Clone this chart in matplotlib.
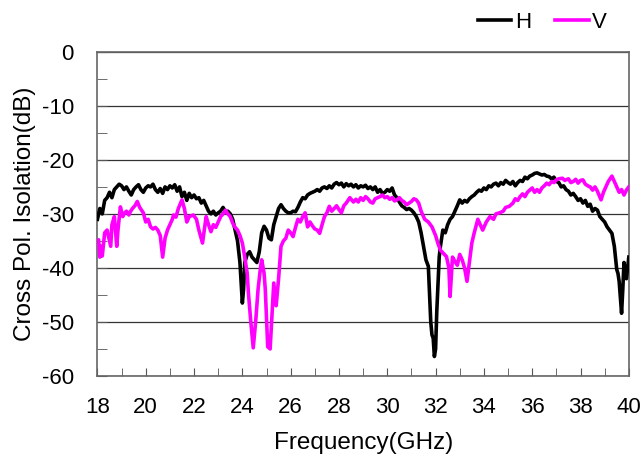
import matplotlib.pyplot as plt
import numpy as np

plt.rcParams['font.family'] = ['Liberation Sans', 'DejaVu Sans']
plt.rcParams['axes.unicode_minus'] = False

# H polarisation
freq_h = [18.0, 18.1, 18.2, 18.3, 18.4, 18.5, 18.6, 18.7, 18.8, 18.9, 19.0, 19.1, 19.2, 19.3, 19.4, 19.5,
          19.6, 19.7, 19.8, 19.9, 20.0, 20.1, 20.2, 20.3, 20.4, 20.5, 20.6, 20.7, 20.8, 20.9, 21.0, 21.1,
          21.2, 21.3, 21.4, 21.5, 21.6, 21.7, 21.8, 21.9, 22.0, 22.1, 22.2, 22.3, 22.4, 22.5, 22.6, 22.7,
          22.8, 22.9, 23.0, 23.1, 23.2, 23.3, 23.4, 23.5, 23.6, 23.7, 23.8, 23.9, 24.0, 24.05, 24.1, 24.2,
          24.3, 24.4, 24.5, 24.6, 24.7, 24.8, 24.9, 25.0, 25.1, 25.2, 25.3, 25.4, 25.5, 25.6, 25.7, 25.8,
          25.9, 26.0, 26.1, 26.2, 26.3, 26.4, 26.5, 26.6, 26.7, 26.8, 26.9, 27.0, 27.1, 27.2, 27.3, 27.4,
          27.5, 27.6, 27.7, 27.8, 27.9, 28.0, 28.1, 28.2, 28.3, 28.4, 28.5, 28.6, 28.7, 28.8, 28.9, 29.0,
          29.1, 29.2, 29.3, 29.4, 29.5, 29.6, 29.7, 29.8, 29.9, 30.0, 30.1, 30.2, 30.3, 30.4, 30.5, 30.6,
          30.7, 30.8, 30.9, 31.0, 31.1, 31.2, 31.3, 31.4, 31.5, 31.6, 31.7, 31.75, 31.8, 31.85, 31.9, 31.95,
          32.0, 32.05, 32.1, 32.15, 32.2, 32.3, 32.4, 32.5, 32.6, 32.7, 32.8, 32.9, 33.0, 33.1, 33.2, 33.3,
          33.4, 33.5, 33.6, 33.7, 33.8, 33.9, 34.0, 34.1, 34.2, 34.3, 34.4, 34.5, 34.6, 34.7, 34.8, 34.9,
          35.0, 35.1, 35.2, 35.3, 35.4, 35.5, 35.6, 35.7, 35.8, 35.9, 36.0, 36.1, 36.2, 36.3, 36.4, 36.5,
          36.6, 36.7, 36.8, 36.9, 37.0, 37.1, 37.2, 37.3, 37.4, 37.5, 37.6, 37.7, 37.8, 37.9, 38.0, 38.1,
          38.2, 38.3, 38.4, 38.5, 38.6, 38.7, 38.8, 38.9, 39.0, 39.1, 39.2, 39.3, 39.4, 39.5, 39.55, 39.6,
          39.7, 39.75, 39.8, 39.85, 39.9, 39.95, 40.0]
iso_h = [-31, -29, -30, -27.5, -27, -26, -27, -25.5, -25, -24.5, -24.8, -25.5, -25, -25.8, -26.5, -25.5,
         -25, -24.6, -25.5, -26, -25.2, -24.8, -25, -24.5, -25.5, -26, -25.3, -26.2, -25, -25.5, -24.8, -25.2,
         -24.6, -25.8, -25, -26.8, -26, -27.5, -26.2, -27, -26.5, -27.2, -27, -28, -27.5, -28.5, -29.5, -30,
         -29.5, -30.2, -29.8, -29.5, -28.8, -29.6, -29.5, -30, -31, -33, -35, -39, -46.5, -44, -39, -37.5,
         -37, -38, -38.5, -39, -37, -33.5, -32.3, -33, -34.5, -34.8, -32, -30.5, -29, -28.3, -29, -29.5,
         -29.8, -29.8, -29.5, -29.6, -28.8, -27.8, -27, -27.2, -26.5, -26.2, -26, -25.8, -25.5, -25.8, -25.2, -25,
         -25.3, -24.8, -25.2, -24.5, -24.2, -24.6, -24.3, -25, -24.4, -24.8, -24.5, -25, -24.6, -25.2, -24.8, -25,
         -24.7, -25.3, -25, -25.5, -25, -26, -25.5, -26.2, -26, -25.5, -25.8, -25.2, -26.5, -27, -27.8, -28.5,
         -28.8, -29.2, -29, -29.3, -29.8, -30.5, -31.5, -33.5, -36, -38.5, -39.7, -45, -50, -52.4, -53, -56.4,
         -55, -48, -42.8, -38, -36, -33, -33.5, -32, -31, -30.5, -29.5, -28.5, -27.4, -28, -27.5, -27.8,
         -27.2, -26.8, -26.5, -26, -25.6, -25.8, -25.2, -25.5, -24.8, -25, -24.5, -24.3, -24.8, -24.2, -24.5, -23.8,
         -24.2, -24.5, -24, -24.8, -24.2, -23.8, -24, -23.2, -23.5, -23, -22.8, -22.5, -22.4, -22.6, -22.8, -22.7,
         -23, -23.1, -23.5, -23.2, -24, -24.2, -25, -24.8, -25.5, -25.8, -26.5, -26.2, -26.8, -27.5, -27.2, -28,
         -27.5, -28.6, -28.2, -29.5, -29, -29.3, -30.5, -31, -31.5, -32.4, -33, -33.6, -36, -40.3, -41, -42.5,
         -48.4, -44, -39, -40.5, -42, -40, -38]

# V polarisation
freq_v = [18.0, 18.05, 18.1, 18.15, 18.2, 18.3, 18.4, 18.5, 18.55, 18.6, 18.7, 18.8, 18.85, 18.95, 19.05, 19.1,
          19.2, 19.3, 19.36, 19.45, 19.55, 19.65, 19.75, 19.9, 20.0, 20.1, 20.2, 20.3, 20.4, 20.5, 20.6, 20.7,
          20.8, 20.9, 21.0, 21.1, 21.15, 21.25, 21.35, 21.5, 21.6, 21.7, 21.8, 21.97, 22.1, 22.2, 22.35, 22.5,
          22.6, 22.7, 22.8, 22.9, 23.0, 23.1, 23.2, 23.3, 23.4, 23.5, 23.6, 23.7, 23.8, 23.9, 24.0, 24.1,
          24.2, 24.25, 24.35, 24.45, 24.55, 24.65, 24.75, 24.8, 24.9, 24.95, 25.05, 25.15, 25.25, 25.3, 25.4, 25.5,
          25.6, 25.7, 25.8, 25.9, 26.0, 26.1, 26.2, 26.3, 26.4, 26.5, 26.6, 26.7, 26.8, 26.9, 27.0, 27.1,
          27.2, 27.3, 27.4, 27.5, 27.6, 27.7, 27.8, 27.9, 28.0, 28.1, 28.2, 28.3, 28.45, 28.6, 28.7, 28.8,
          28.9, 29.0, 29.1, 29.2, 29.3, 29.4, 29.5, 29.6, 29.7, 29.8, 29.9, 30.0, 30.1, 30.2, 30.3, 30.4,
          30.5, 30.6, 30.7, 30.8, 30.9, 31.0, 31.1, 31.2, 31.3, 31.4, 31.5, 31.55, 31.7, 31.85, 32.0, 32.1,
          32.2, 32.3, 32.45, 32.55, 32.6, 32.7, 32.8, 32.9, 33.0, 33.1, 33.2, 33.3, 33.4, 33.5, 33.6, 33.75,
          33.85, 33.95, 34.1, 34.25, 34.4, 34.5, 34.65, 34.8, 34.9, 35.05, 35.2, 35.3, 35.4, 35.5, 35.6, 35.7,
          35.8, 35.9, 36.0, 36.1, 36.2, 36.3, 36.4, 36.5, 36.6, 36.7, 36.8, 36.9, 37.0, 37.1, 37.25, 37.35,
          37.5, 37.6, 37.7, 37.8, 37.9, 38.0, 38.1, 38.2, 38.3, 38.4, 38.5, 38.6, 38.7, 38.85, 38.95, 39.05,
          39.15, 39.3, 39.4, 39.5, 39.6, 39.7, 39.8, 39.9, 40.0]
iso_v = [-35, -34.8, -38, -36, -37.8, -33.5, -33, -35, -36, -32, -30.5, -36, -33, -28.7, -30.5, -30,
         -29.5, -30.2, -29.6, -29, -28.5, -27.7, -28.8, -29.8, -31.5, -31, -32.4, -32.8, -32.5, -33, -34, -38,
         -34.5, -33, -32, -31, -30.2, -30.6, -29, -27.4, -29, -31.5, -30.5, -30.2, -31, -33, -35.4, -30.5,
         -32, -33.3, -32, -32.5, -31.5, -30.5, -30, -29.3, -30, -30.5, -31.7, -32.5, -33, -34, -35.4, -38,
         -41, -44.6, -50, -54.8, -50, -44, -40, -38.5, -41, -44, -54.6, -55, -47, -42.8, -47, -42,
         -36, -35, -34.5, -33, -33.5, -34.2, -32.5, -31, -31.5, -30.5, -29.8, -32.4, -31.5, -32.2, -32.8, -33,
         -33.6, -32, -30.5, -29.8, -28.6, -29.5, -29, -28.5, -29.2, -29.8, -28.5, -28, -27, -27.8, -27.3, -27.8,
         -27, -27.5, -26.8, -27.2, -27.8, -28, -27.2, -27, -26.8, -26.5, -27, -26.8, -27.3, -27, -27.6, -27.4,
         -27, -27.5, -27.8, -28.3, -28, -27.7, -27.2, -27.4, -28, -29.5, -30.5, -31, -31.5, -32.4, -34, -35.5,
         -36.7, -37.2, -37.9, -40, -45.3, -38, -38.8, -39.5, -37.5, -38.5, -40, -42.5, -39, -35.4, -33.5, -31,
         -32, -33, -31.5, -30.5, -31, -30, -29.8, -29.5, -28.8, -28.6, -28, -27.2, -27.5, -26.8, -26.3, -26.8,
         -26, -25.6, -25.2, -26, -25.5, -26, -25.2, -24.8, -24.3, -24.6, -24, -24.2, -23.7, -23.5, -23.4, -23.8,
         -23.5, -24.2, -24, -23.6, -24.3, -23.8, -23.7, -24.5, -24.8, -25, -25.6, -25, -25.8, -27.4, -26, -25,
         -24, -23, -24, -25, -26, -25.5, -26.5, -25.6, -25]

fig = plt.figure(figsize=(6.41, 4.59), dpi=100)
ax = fig.add_axes([0.152, 0.181, 0.829, 0.706])

ax.plot(freq_h, iso_h, color='black', lw=2.6, label='H', zorder=3)
ax.plot(freq_v, iso_v, color='#ff00ff', lw=2.6, label='V', zorder=3)

ax.set_xlim(18, 40)
ax.set_ylim(-60, 0)
ax.set_xticks(np.arange(18, 41, 2))
ax.set_xticks(np.arange(18, 41, 1), minor=True)
ax.set_yticks(np.arange(-60, 1, 10))
ax.set_yticks(np.arange(-60, 1, 5), minor=True)
ax.grid(axis='y', which='major', color='#333333', lw=0.9)
ax.tick_params(which='both', direction='in', labelsize=16, color='#555555')
ax.tick_params(axis='x', which='both', length=6, pad=15)
ax.tick_params(axis='y', which='both', length=7, pad=17)
for s in ax.spines.values():
    s.set_color('#666666')
    s.set_linewidth(1.2)

ax.set_xlabel('Frequency(GHz)', fontsize=17.5, labelpad=10)
ax.set_ylabel('Cross Pol. Isolation(dB)', fontsize=17.5, labelpad=4)

fig.legend(loc='upper right', bbox_to_anchor=(0.978, 1.017), ncol=2, frameon=False, fontsize=16,
           handlelength=1.5, handletextpad=0.15, columnspacing=1.1)

plt.savefig('out.png', dpi=100)
